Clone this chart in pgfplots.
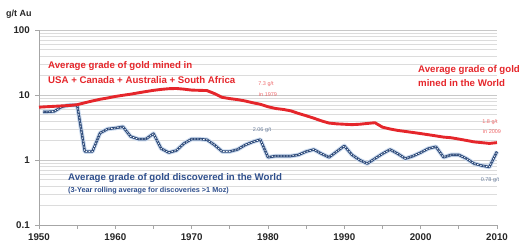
\documentclass[border=0pt]{standalone}
\usepackage{fontspec}
\setmainfont{Liberation Sans}
\usepackage{pgfplots}
\usepackage{pgfplotstable}
\pgfplotsset{compat=1.18}
\definecolor{gred}{HTML}{E5262B}
\definecolor{glred}{HTML}{EE6A6C}
\definecolor{gblue}{HTML}{2B4878}
\definecolor{gbluetxt}{HTML}{2F4F8C}
\definecolor{gbluelab}{HTML}{6A7E9C}
\definecolor{gblueglow}{HTML}{CCDBEE}
\definecolor{ggrid}{HTML}{DCDCDC}
\definecolor{ggridmaj}{HTML}{C8C8C8}
\definecolor{gaxis}{HTML}{A6A6A6}

\pgfplotstableread{
year grade
1950 6.5
1951 6.6
1952 6.7
1953 6.8
1954 6.9
1955 7.1
1956 7.6
1957 8.1
1958 8.6
1959 9.0
1960 9.5
1961 9.9
1962 10.3
1963 10.8
1964 11.3
1965 11.8
1966 12.2
1967 12.5
1968 12.6
1969 12.3
1970 11.9
1971 11.8
1972 11.7
1973 10.5
1974 9.2
1975 8.8
1976 8.5
1977 8.1
1978 7.6
1979 7.2
1980 6.6
1981 6.2
1982 6.0
1983 5.7
1984 5.2
1985 4.8
1986 4.4
1987 4.0
1988 3.7
1989 3.6
1990 3.55
1991 3.5
1992 3.55
1993 3.65
1994 3.75
1995 3.2
1996 3.0
1997 2.85
1998 2.75
1999 2.65
2000 2.55
2001 2.45
2002 2.35
2003 2.25
2004 2.2
2005 2.1
2006 2.0
2007 1.9
2008 1.85
2009 1.8
2010 1.85
}\minedtable

\pgfplotstableread{
year grade
1950.5 5.5
1951 5.5
1952 5.6
1953 6.6
1954 7.0
1955 7.0
1956 1.35
1957 1.35
1958 2.6
1959 3.0
1960 3.1
1961 3.25
1962 2.3
1963 2.1
1964 2.1
1965 2.55
1966 1.5
1967 1.3
1968 1.4
1969 1.8
1970 2.1
1971 2.1
1972 2.05
1973 1.7
1974 1.35
1975 1.35
1976 1.45
1977 1.7
1978 1.9
1979 2.06
1980 1.1
1981 1.15
1982 1.15
1983 1.15
1984 1.2
1985 1.35
1986 1.45
1987 1.25
1988 1.1
1989 1.35
1990 1.65
1991 1.2
1992 1.0
1993 0.88
1994 1.05
1995 1.25
1996 1.45
1997 1.25
1998 1.05
1999 1.15
2000 1.3
2001 1.5
2002 1.6
2003 1.1
2004 1.2
2005 1.2
2006 1.05
2007 0.88
2008 0.82
2009 0.78
2010 1.35
}\disctable

\begin{document}
\begin{tikzpicture}[x=1bp,y=1bp]
\useasboundingbox (0,0) rectangle (529,248);
\begin{axis}[
  at={(39bp,23bp)}, anchor=south west,
  scale only axis, width=458bp, height=195bp,
  ymode=log, ymin=0.1, ymax=100, xmin=1950, xmax=2010,
  axis x line*=bottom, axis y line*=left,
  axis line style={draw=gaxis, line width=0.8pt, -},
  xtick={1950,1960,1970,1980,1990,2000,2010},
  xticklabels={1950,1960,1970,1980,1990,2000,2010},
  minor xtick={1955,1965,1975,1985,1995,2005},
  ytick={0.1,1,10,100},
  yticklabels={0.1,1,10,100},
  tick align=outside,
  major tick length=4bp, minor tick length=4bp,
  tick style={draw=gaxis, line width=0.7pt},
  minor y tick style={draw=none},
  ymajorgrids, yminorgrids,
  major grid style={draw=ggridmaj, line width=0.8pt},
  minor grid style={draw=ggrid, line width=0.7pt},
  tick label style={font=\bfseries\fontsize{9.8}{11}\selectfont, text=black!85},
  yticklabel style={inner sep=1bp, xshift=-4bp},
  xticklabel style={inner sep=1bp, yshift=-3bp},
  clip=false,
]
\addplot[gblueglow, line width=4.5pt, line join=round] table[x=year,y=grade] {\disctable};
\addplot[gblue, line width=2.4pt, line join=round] table[x=year,y=grade] {\disctable};
\addplot[white!85!gblueglow, line width=0.7pt, dash pattern=on 1.6pt off 1.4pt] table[x=year,y=grade] {\disctable};
\addplot[gred, line width=2.9pt, line join=round] table[x=year,y=grade] {\minedtable};
\end{axis}

\node[anchor=west, inner sep=0, font=\bfseries\fontsize{9}{10}\selectfont, text=black!85] at (6,234) {g/t Au};

\node[anchor=west, inner sep=0, font=\bfseries\fontsize{9.7}{11}\selectfont, text=gred] at (48,181.5) {Average grade of gold mined in};
\node[anchor=west, inner sep=0, font=\bfseries\fontsize{9.7}{11}\selectfont, text=gred] at (48,168) {USA + Canada + Australia + South Africa};

\node[anchor=west, inner sep=0, font=\bfseries\fontsize{9.7}{11}\selectfont, text=gred] at (418,178) {Average grade of gold};
\node[anchor=west, inner sep=0, font=\bfseries\fontsize{9.7}{11}\selectfont, text=gred] at (418,164.5) {mined in the World};

\node[anchor=west, inner sep=0, font=\bfseries\fontsize{9.7}{11}\selectfont, text=gbluetxt] at (68,70) {Average grade of gold discovered in the World};
\node[anchor=west, inner sep=0, font=\bfseries\fontsize{7.3}{9}\selectfont, text=gbluetxt] at (68,57) {(3-Year rolling average for discoveries >1 Moz)};

\node[inner sep=0, font=\fontsize{5.5}{6}\selectfont, text=glred] at (266,164) {7.3 g/t};
\node[inner sep=0, font=\fontsize{5.5}{6}\selectfont, text=glred] at (268,153) {in 1979};
\node[inner sep=0, font=\fontsize{5.5}{6}\selectfont, text=gbluelab] at (262,118) {2.06 g/t};
\node[inner sep=0, font=\fontsize{5.5}{6}\selectfont, text=glred] at (490,126) {1.8 g/t};
\node[inner sep=0, font=\fontsize{5.5}{6}\selectfont, text=glred] at (492,116) {in 2009};
\node[inner sep=0, font=\fontsize{5.5}{6}\selectfont, text=gbluelab] at (490,68) {0.78 g/t};
\end{tikzpicture}
\end{document}
